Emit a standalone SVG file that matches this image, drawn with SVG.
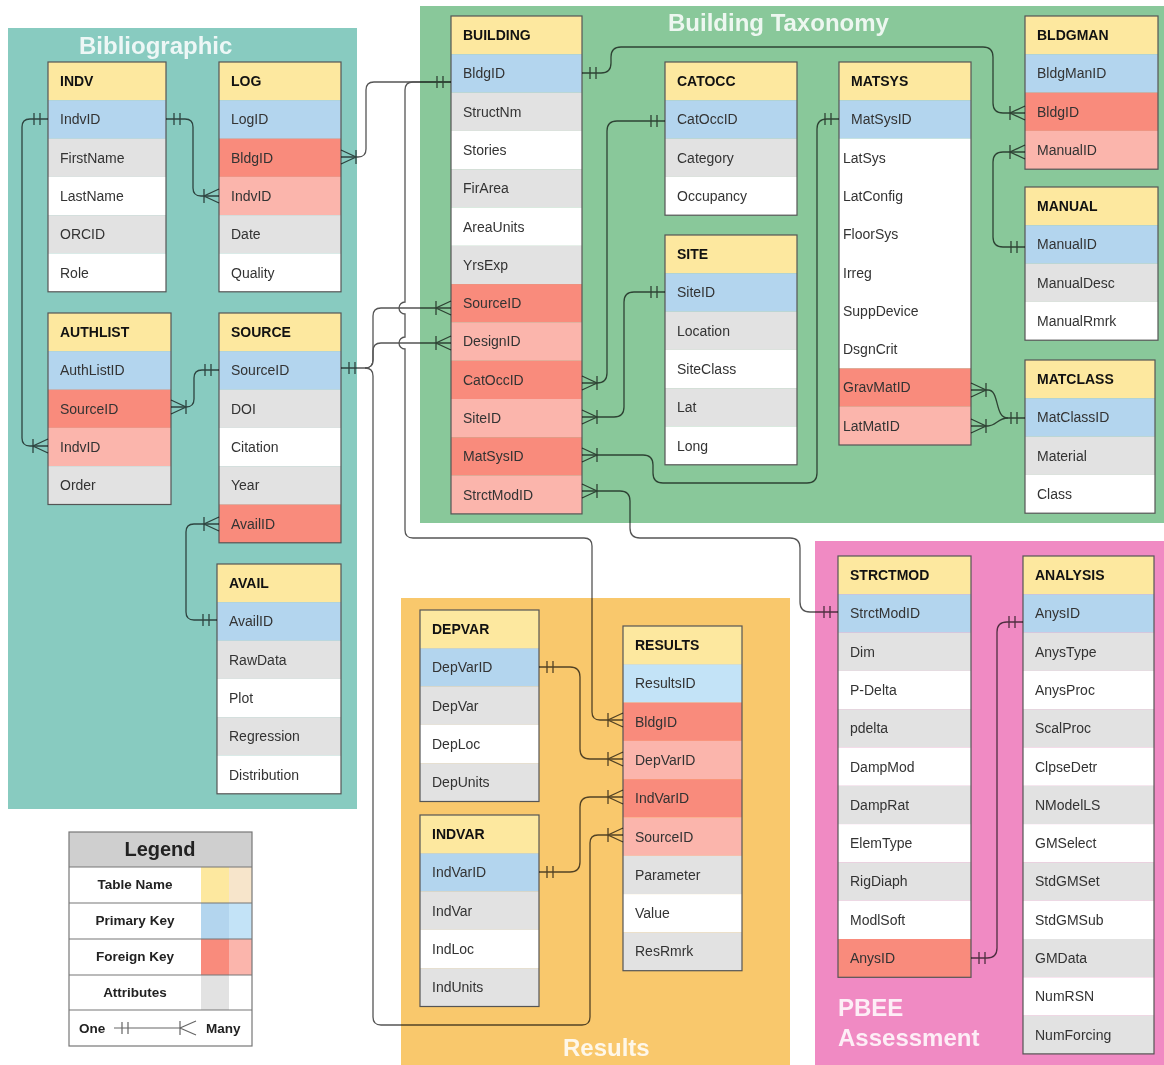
<svg xmlns="http://www.w3.org/2000/svg" width="1164" height="1065" viewBox="0 0 1164 1065">
<style>
.hd{fill:#fde89f}.pk{fill:#b3d5ee}.pl{fill:#c3e3f7}.fk{fill:#f98b7c}.fl{fill:#fbb5ac}.at{fill:#e2e2e2}.wt{fill:#ffffff}
.bd{fill:none;stroke:#555;stroke-width:1.2}
.th{font:bold 14px "Liberation Sans",Arial,sans-serif;fill:#111}
.tr{font:14px "Liberation Sans",Arial,sans-serif;fill:#333}
.gl{font:bold 24px "Liberation Sans",Arial,sans-serif;fill:#ffffff;fill-opacity:0.85}
.cn{fill:none;stroke:#555;stroke-width:1.3}
.lg{font:bold 13.5px "Liberation Sans",Arial,sans-serif;fill:#222}
</style>
<defs>
<marker id="one" markerUnits="userSpaceOnUse" markerWidth="20" markerHeight="20" viewBox="-20 -10 20 20" refX="0" refY="0" orient="auto-start-reverse" overflow="visible">
<path d="M-8,-6V6M-14,-6V6" stroke="#555" stroke-width="1.3" fill="none"/>
</marker>
<marker id="many" markerUnits="userSpaceOnUse" markerWidth="20" markerHeight="20" viewBox="-20 -10 20 20" refX="0" refY="0" orient="auto-start-reverse" overflow="visible">
<path d="M0,-7L-15,0L0,7M-15,-7V7" stroke="#555" stroke-width="1.3" fill="none"/>
</marker>
</defs>
<rect width="1164" height="1065" fill="#ffffff"/>
<g id="regions">
<rect x="8" y="28" width="349" height="781" fill="#88cbc0"/>
<rect x="420" y="6" width="744" height="517" fill="#89c89a"/>
<rect x="401" y="598" width="389" height="467" fill="#f9c86c"/>
<rect x="815" y="541" width="349" height="524" fill="#f08ac3"/>
<text class="gl" x="79" y="54">Bibliographic</text>
<text class="gl" x="668" y="31">Building Taxonomy</text>
<text class="gl" x="563" y="1056">Results</text>
<text class="gl" x="838" y="1016">PBEE</text>
<text class="gl" x="838" y="1046">Assessment</text>
</g>

<g id="t-indv">
<rect class="hd" x="48" y="62" width="118" height="38.3"/>
<rect class="pk" x="48" y="100.3" width="118" height="38.3"/>
<rect class="at" x="48" y="138.6" width="118" height="38.3"/>
<rect class="wt" x="48" y="176.9" width="118" height="38.3"/>
<rect class="at" x="48" y="215.2" width="118" height="38.3"/>
<rect class="wt" x="48" y="253.5" width="118" height="38.3"/>
<rect class="bd" x="48" y="62" width="118" height="229.8"/>
<text class="th" x="60" y="86">INDV</text>
<text class="tr" x="60" y="124.3">IndvID</text>
<text class="tr" x="60" y="162.6">FirstName</text>
<text class="tr" x="60" y="200.9">LastName</text>
<text class="tr" x="60" y="239.2">ORCID</text>
<text class="tr" x="60" y="277.5">Role</text>
</g>

<g id="t-log">
<rect class="hd" x="219" y="62" width="122" height="38.3"/>
<rect class="pk" x="219" y="100.3" width="122" height="38.3"/>
<rect class="fk" x="219" y="138.6" width="122" height="38.3"/>
<rect class="fl" x="219" y="176.9" width="122" height="38.3"/>
<rect class="at" x="219" y="215.2" width="122" height="38.3"/>
<rect class="wt" x="219" y="253.5" width="122" height="38.3"/>
<rect class="bd" x="219" y="62" width="122" height="229.8"/>
<text class="th" x="231" y="86">LOG</text>
<text class="tr" x="231" y="124.3">LogID</text>
<text class="tr" x="231" y="162.6">BldgID</text>
<text class="tr" x="231" y="200.9">IndvID</text>
<text class="tr" x="231" y="239.2">Date</text>
<text class="tr" x="231" y="277.5">Quality</text>
</g>

<g id="t-authlist">
<rect class="hd" x="48" y="313" width="123" height="38.3"/>
<rect class="pk" x="48" y="351.3" width="123" height="38.3"/>
<rect class="fk" x="48" y="389.6" width="123" height="38.3"/>
<rect class="fl" x="48" y="427.9" width="123" height="38.3"/>
<rect class="at" x="48" y="466.2" width="123" height="38.3"/>
<rect class="bd" x="48" y="313" width="123" height="191.5"/>
<text class="th" x="60" y="337">AUTHLIST</text>
<text class="tr" x="60" y="375.3">AuthListID</text>
<text class="tr" x="60" y="413.6">SourceID</text>
<text class="tr" x="60" y="451.9">IndvID</text>
<text class="tr" x="60" y="490.2">Order</text>
</g>

<g id="t-source">
<rect class="hd" x="219" y="313" width="122" height="38.3"/>
<rect class="pk" x="219" y="351.3" width="122" height="38.3"/>
<rect class="at" x="219" y="389.6" width="122" height="38.3"/>
<rect class="wt" x="219" y="427.9" width="122" height="38.3"/>
<rect class="at" x="219" y="466.2" width="122" height="38.3"/>
<rect class="fk" x="219" y="504.5" width="122" height="38.3"/>
<rect class="bd" x="219" y="313" width="122" height="229.8"/>
<text class="th" x="231" y="337">SOURCE</text>
<text class="tr" x="231" y="375.3">SourceID</text>
<text class="tr" x="231" y="413.6">DOI</text>
<text class="tr" x="231" y="451.9">Citation</text>
<text class="tr" x="231" y="490.2">Year</text>
<text class="tr" x="231" y="528.5">AvailID</text>
</g>

<g id="t-avail">
<rect class="hd" x="217" y="564" width="124" height="38.3"/>
<rect class="pk" x="217" y="602.3" width="124" height="38.3"/>
<rect class="at" x="217" y="640.6" width="124" height="38.3"/>
<rect class="wt" x="217" y="678.9" width="124" height="38.3"/>
<rect class="at" x="217" y="717.2" width="124" height="38.3"/>
<rect class="wt" x="217" y="755.5" width="124" height="38.3"/>
<rect class="bd" x="217" y="564" width="124" height="229.8"/>
<text class="th" x="229" y="588">AVAIL</text>
<text class="tr" x="229" y="626.3">AvailID</text>
<text class="tr" x="229" y="664.6">RawData</text>
<text class="tr" x="229" y="702.9">Plot</text>
<text class="tr" x="229" y="741.2">Regression</text>
<text class="tr" x="229" y="779.5">Distribution</text>
</g>

<g id="t-building">
<rect class="hd" x="451" y="16" width="131" height="38.3"/>
<rect class="pk" x="451" y="54.3" width="131" height="38.3"/>
<rect class="at" x="451" y="92.6" width="131" height="38.3"/>
<rect class="wt" x="451" y="130.9" width="131" height="38.3"/>
<rect class="at" x="451" y="169.2" width="131" height="38.3"/>
<rect class="wt" x="451" y="207.5" width="131" height="38.3"/>
<rect class="at" x="451" y="245.8" width="131" height="38.3"/>
<rect class="fk" x="451" y="284.1" width="131" height="38.3"/>
<rect class="fl" x="451" y="322.4" width="131" height="38.3"/>
<rect class="fk" x="451" y="360.7" width="131" height="38.3"/>
<rect class="fl" x="451" y="399" width="131" height="38.3"/>
<rect class="fk" x="451" y="437.3" width="131" height="38.3"/>
<rect class="fl" x="451" y="475.6" width="131" height="38.3"/>
<rect class="bd" x="451" y="16" width="131" height="497.9"/>
<text class="th" x="463" y="40">BUILDING</text>
<text class="tr" x="463" y="78.3">BldgID</text>
<text class="tr" x="463" y="116.6">StructNm</text>
<text class="tr" x="463" y="154.9">Stories</text>
<text class="tr" x="463" y="193.2">FirArea</text>
<text class="tr" x="463" y="231.5">AreaUnits</text>
<text class="tr" x="463" y="269.8">YrsExp</text>
<text class="tr" x="463" y="308.1">SourceID</text>
<text class="tr" x="463" y="346.4">DesignID</text>
<text class="tr" x="463" y="384.7">CatOccID</text>
<text class="tr" x="463" y="423">SiteID</text>
<text class="tr" x="463" y="461.3">MatSysID</text>
<text class="tr" x="463" y="499.6">StrctModID</text>
</g>

<g id="t-catocc">
<rect class="hd" x="665" y="62" width="132" height="38.3"/>
<rect class="pk" x="665" y="100.3" width="132" height="38.3"/>
<rect class="at" x="665" y="138.6" width="132" height="38.3"/>
<rect class="wt" x="665" y="176.9" width="132" height="38.3"/>
<rect class="bd" x="665" y="62" width="132" height="153.2"/>
<text class="th" x="677" y="86">CATOCC</text>
<text class="tr" x="677" y="124.3">CatOccID</text>
<text class="tr" x="677" y="162.6">Category</text>
<text class="tr" x="677" y="200.9">Occupancy</text>
</g>

<g id="t-site">
<rect class="hd" x="665" y="235" width="132" height="38.3"/>
<rect class="pk" x="665" y="273.3" width="132" height="38.3"/>
<rect class="at" x="665" y="311.6" width="132" height="38.3"/>
<rect class="wt" x="665" y="349.9" width="132" height="38.3"/>
<rect class="at" x="665" y="388.2" width="132" height="38.3"/>
<rect class="wt" x="665" y="426.5" width="132" height="38.3"/>
<rect class="bd" x="665" y="235" width="132" height="229.8"/>
<text class="th" x="677" y="259">SITE</text>
<text class="tr" x="677" y="297.3">SiteID</text>
<text class="tr" x="677" y="335.6">Location</text>
<text class="tr" x="677" y="373.9">SiteClass</text>
<text class="tr" x="677" y="412.2">Lat</text>
<text class="tr" x="677" y="450.5">Long</text>
</g>

<g id="t-matsys">
<rect class="hd" x="839" y="62" width="132" height="38.3"/>
<rect class="pk" x="839" y="100.3" width="132" height="38.3"/>
<rect class="wt" x="839" y="138.6" width="132" height="229.8"/>
<rect class="fk" x="839" y="368.4" width="132" height="38.3"/>
<rect class="fl" x="839" y="406.7" width="132" height="38.3"/>
<rect class="bd" x="839" y="62" width="132" height="383"/>
<text class="th" x="851" y="86">MATSYS</text>
<text class="tr" x="851" y="124.3">MatSysID</text>
<text class="tr" x="843" y="162.6">LatSys</text>
<text class="tr" x="843" y="200.9">LatConfig</text>
<text class="tr" x="843" y="239.2">FloorSys</text>
<text class="tr" x="843" y="277.5">Irreg</text>
<text class="tr" x="843" y="315.8">SuppDevice</text>
<text class="tr" x="843" y="354.1">DsgnCrit</text>
<text class="tr" x="843" y="392.4">GravMatID</text>
<text class="tr" x="843" y="430.7">LatMatID</text>
</g>

<g id="t-bldgman">
<rect class="hd" x="1025" y="16" width="133" height="38.3"/>
<rect class="pk" x="1025" y="54.3" width="133" height="38.3"/>
<rect class="fk" x="1025" y="92.6" width="133" height="38.3"/>
<rect class="fl" x="1025" y="130.9" width="133" height="38.3"/>
<rect class="bd" x="1025" y="16" width="133" height="153.2"/>
<text class="th" x="1037" y="40">BLDGMAN</text>
<text class="tr" x="1037" y="78.3">BldgManID</text>
<text class="tr" x="1037" y="116.6">BldgID</text>
<text class="tr" x="1037" y="154.9">ManualID</text>
</g>

<g id="t-manual">
<rect class="hd" x="1025" y="187" width="133" height="38.3"/>
<rect class="pk" x="1025" y="225.3" width="133" height="38.3"/>
<rect class="at" x="1025" y="263.6" width="133" height="38.3"/>
<rect class="wt" x="1025" y="301.9" width="133" height="38.3"/>
<rect class="bd" x="1025" y="187" width="133" height="153.2"/>
<text class="th" x="1037" y="211">MANUAL</text>
<text class="tr" x="1037" y="249.3">ManualID</text>
<text class="tr" x="1037" y="287.6">ManualDesc</text>
<text class="tr" x="1037" y="325.9">ManualRmrk</text>
</g>

<g id="t-matclass">
<rect class="hd" x="1025" y="360" width="130" height="38.3"/>
<rect class="pk" x="1025" y="398.3" width="130" height="38.3"/>
<rect class="at" x="1025" y="436.6" width="130" height="38.3"/>
<rect class="wt" x="1025" y="474.9" width="130" height="38.3"/>
<rect class="bd" x="1025" y="360" width="130" height="153.2"/>
<text class="th" x="1037" y="384">MATCLASS</text>
<text class="tr" x="1037" y="422.3">MatClassID</text>
<text class="tr" x="1037" y="460.6">Material</text>
<text class="tr" x="1037" y="498.9">Class</text>
</g>

<g id="t-depvar">
<rect class="hd" x="420" y="610" width="119" height="38.3"/>
<rect class="pk" x="420" y="648.3" width="119" height="38.3"/>
<rect class="at" x="420" y="686.6" width="119" height="38.3"/>
<rect class="wt" x="420" y="724.9" width="119" height="38.3"/>
<rect class="at" x="420" y="763.2" width="119" height="38.3"/>
<rect class="bd" x="420" y="610" width="119" height="191.5"/>
<text class="th" x="432" y="634">DEPVAR</text>
<text class="tr" x="432" y="672.3">DepVarID</text>
<text class="tr" x="432" y="710.6">DepVar</text>
<text class="tr" x="432" y="748.9">DepLoc</text>
<text class="tr" x="432" y="787.2">DepUnits</text>
</g>

<g id="t-indvar">
<rect class="hd" x="420" y="815" width="119" height="38.3"/>
<rect class="pk" x="420" y="853.3" width="119" height="38.3"/>
<rect class="at" x="420" y="891.6" width="119" height="38.3"/>
<rect class="wt" x="420" y="929.9" width="119" height="38.3"/>
<rect class="at" x="420" y="968.2" width="119" height="38.3"/>
<rect class="bd" x="420" y="815" width="119" height="191.5"/>
<text class="th" x="432" y="839">INDVAR</text>
<text class="tr" x="432" y="877.3">IndVarID</text>
<text class="tr" x="432" y="915.6">IndVar</text>
<text class="tr" x="432" y="953.9">IndLoc</text>
<text class="tr" x="432" y="992.2">IndUnits</text>
</g>

<g id="t-results">
<rect class="hd" x="623" y="626" width="119" height="38.3"/>
<rect class="pl" x="623" y="664.3" width="119" height="38.3"/>
<rect class="fk" x="623" y="702.6" width="119" height="38.3"/>
<rect class="fl" x="623" y="740.9" width="119" height="38.3"/>
<rect class="fk" x="623" y="779.2" width="119" height="38.3"/>
<rect class="fl" x="623" y="817.5" width="119" height="38.3"/>
<rect class="at" x="623" y="855.8" width="119" height="38.3"/>
<rect class="wt" x="623" y="894.1" width="119" height="38.3"/>
<rect class="at" x="623" y="932.4" width="119" height="38.3"/>
<rect class="bd" x="623" y="626" width="119" height="344.7"/>
<text class="th" x="635" y="650">RESULTS</text>
<text class="tr" x="635" y="688.3">ResultsID</text>
<text class="tr" x="635" y="726.6">BldgID</text>
<text class="tr" x="635" y="764.9">DepVarID</text>
<text class="tr" x="635" y="803.2">IndVarID</text>
<text class="tr" x="635" y="841.5">SourceID</text>
<text class="tr" x="635" y="879.8">Parameter</text>
<text class="tr" x="635" y="918.1">Value</text>
<text class="tr" x="635" y="956.4">ResRmrk</text>
</g>

<g id="t-strctmod">
<rect class="hd" x="838" y="556" width="133" height="38.3"/>
<rect class="pk" x="838" y="594.3" width="133" height="38.3"/>
<rect class="at" x="838" y="632.6" width="133" height="38.3"/>
<rect class="wt" x="838" y="670.9" width="133" height="38.3"/>
<rect class="at" x="838" y="709.2" width="133" height="38.3"/>
<rect class="wt" x="838" y="747.5" width="133" height="38.3"/>
<rect class="at" x="838" y="785.8" width="133" height="38.3"/>
<rect class="wt" x="838" y="824.1" width="133" height="38.3"/>
<rect class="at" x="838" y="862.4" width="133" height="38.3"/>
<rect class="wt" x="838" y="900.7" width="133" height="38.3"/>
<rect class="fk" x="838" y="939" width="133" height="38.3"/>
<rect class="bd" x="838" y="556" width="133" height="421.3"/>
<text class="th" x="850" y="580">STRCTMOD</text>
<text class="tr" x="850" y="618.3">StrctModID</text>
<text class="tr" x="850" y="656.6">Dim</text>
<text class="tr" x="850" y="694.9">P-Delta</text>
<text class="tr" x="850" y="733.2">pdelta</text>
<text class="tr" x="850" y="771.5">DampMod</text>
<text class="tr" x="850" y="809.8">DampRat</text>
<text class="tr" x="850" y="848.1">ElemType</text>
<text class="tr" x="850" y="886.4">RigDiaph</text>
<text class="tr" x="850" y="924.7">ModlSoft</text>
<text class="tr" x="850" y="963">AnysID</text>
</g>

<g id="t-analysis">
<rect class="hd" x="1023" y="556" width="131" height="38.3"/>
<rect class="pk" x="1023" y="594.3" width="131" height="38.3"/>
<rect class="at" x="1023" y="632.6" width="131" height="38.3"/>
<rect class="wt" x="1023" y="670.9" width="131" height="38.3"/>
<rect class="at" x="1023" y="709.2" width="131" height="38.3"/>
<rect class="wt" x="1023" y="747.5" width="131" height="38.3"/>
<rect class="at" x="1023" y="785.8" width="131" height="38.3"/>
<rect class="wt" x="1023" y="824.1" width="131" height="38.3"/>
<rect class="at" x="1023" y="862.4" width="131" height="38.3"/>
<rect class="wt" x="1023" y="900.7" width="131" height="38.3"/>
<rect class="at" x="1023" y="939" width="131" height="38.3"/>
<rect class="wt" x="1023" y="977.3" width="131" height="38.3"/>
<rect class="at" x="1023" y="1015.6" width="131" height="38.3"/>
<rect class="bd" x="1023" y="556" width="131" height="497.9"/>
<text class="th" x="1035" y="580">ANALYSIS</text>
<text class="tr" x="1035" y="618.3">AnysID</text>
<text class="tr" x="1035" y="656.6">AnysType</text>
<text class="tr" x="1035" y="694.9">AnysProc</text>
<text class="tr" x="1035" y="733.2">ScalProc</text>
<text class="tr" x="1035" y="771.5">ClpseDetr</text>
<text class="tr" x="1035" y="809.8">NModelLS</text>
<text class="tr" x="1035" y="848.1">GMSelect</text>
<text class="tr" x="1035" y="886.4">StdGMSet</text>
<text class="tr" x="1035" y="924.7">StdGMSub</text>
<text class="tr" x="1035" y="963">GMData</text>
<text class="tr" x="1035" y="1001.3">NumRSN</text>
<text class="tr" x="1035" y="1039.6">NumForcing</text>
</g>

<g id="legend">
<rect x="69" y="832" width="183" height="214" fill="#ffffff"/>
<rect x="69" y="832" width="183" height="35" fill="#cfcfcf"/>
<rect x="201" y="867" width="28" height="36" fill="#fde89f"/>
<rect x="229" y="867" width="23" height="36" fill="#f7e5cb"/>
<rect x="201" y="903" width="28" height="36" fill="#b3d5ee"/>
<rect x="229" y="903" width="23" height="36" fill="#c3e3f7"/>
<rect x="201" y="939" width="28" height="36" fill="#f98b7c"/>
<rect x="229" y="939" width="23" height="36" fill="#fbb5ac"/>
<rect x="201" y="975" width="28" height="35" fill="#e2e2e2"/>
<path d="M69,867H252M69,903H252M69,939H252M69,975H252M69,1010H252" stroke="#777" stroke-width="1.2" fill="none"/>
<rect x="69" y="832" width="183" height="214" fill="none" stroke="#777" stroke-width="1.2"/>
<text x="160" y="856" text-anchor="middle" style="font:bold 20px 'Liberation Sans',Arial,sans-serif;fill:#222">Legend</text>
<text class="lg" x="135" y="889" text-anchor="middle">Table Name</text>
<text class="lg" x="135" y="925" text-anchor="middle">Primary Key</text>
<text class="lg" x="135" y="961" text-anchor="middle">Foreign Key</text>
<text class="lg" x="135" y="997" text-anchor="middle">Attributes</text>
<text class="lg" x="79" y="1033">One</text>
<text class="lg" x="206" y="1033">Many</text>
<path d="M114,1028H180M122,1022V1034M128,1022V1034M180,1021V1035M180,1028L196,1021M180,1028L196,1035" stroke="#666" stroke-width="1.2" fill="none"/>
</g>

<g id="connectors" style="mix-blend-mode:multiply">
<path class="cn" marker-start="url(#one)" marker-end="url(#many)" d="M48,119 L30,119 Q22,119 22,127 L22,438 Q22,446 30,446 L48,446"/>
<path class="cn" marker-start="url(#one)" marker-end="url(#many)" d="M166,119 L185,119 Q193,119 193,127 L193,188 Q193,196 201,196 L219,196"/>
<path class="cn" marker-start="url(#many)" marker-end="url(#one)" d="M341,157 L358,157 Q366,157 366,149 L366,90 Q366,82 374,82 L451,82"/>
<path class="cn" marker-end="url(#many)" d="M451,82 L413,82 Q405,82 405,90 L405,302 A6,6 0 0 0 405,314 L405,337 A6,6 0 0 0 405,349 L405,530 Q405,538 413,538 L584,538 Q592,538 592,546 L592,712 Q592,720 600,720 L623,720"/>
<path class="cn" marker-start="url(#one)" marker-end="url(#many)" d="M341,368 L365,368 Q373,368 373,360 L373,316 Q373,308 381,308 L451,308"/>
<path class="cn" marker-end="url(#many)" d="M365,368 Q373,368 373,360 L373,351 Q373,343 381,343 L451,343"/>
<path class="cn" marker-end="url(#many)" d="M365,368 Q373,368 373,376 L373,1017 Q373,1025 381,1025 L582,1025 Q590,1025 590,1017 L590,843 Q590,835 598,835 L623,835"/>
<path class="cn" marker-start="url(#many)" marker-end="url(#one)" d="M171,407 L186,407 Q194,407 194,399 L194,378 Q194,370 202,370 L219,370"/>
<path class="cn" marker-start="url(#many)" marker-end="url(#one)" d="M219,524 L194,524 Q186,524 186,532 L186,612 Q186,620 194,620 L217,620"/>
<path class="cn" marker-start="url(#one)" marker-end="url(#many)" d="M582,73 L601,73 Q611,73 611,63 L611,57 Q611,47 621,47 L983,47 Q993,47 993,57 L993,103 Q993,113 1003,113 L1025,113"/>
<path class="cn" marker-start="url(#one)" marker-end="url(#many)" d="M1025,247 L1003,247 Q993,247 993,237 L993,162 Q993,152 1003,152 L1025,152"/>
<path class="cn" marker-start="url(#one)" marker-end="url(#many)" d="M665,121 L617,121 Q607,121 607,131 L607,373 Q607,383 597,383 L582,383"/>
<path class="cn" marker-start="url(#one)" marker-end="url(#many)" d="M665,292 L634,292 Q624,292 624,302 L624,407 Q624,417 614,417 L582,417"/>
<path class="cn" marker-start="url(#one)" marker-end="url(#many)" d="M839,119 L827,119 Q817,119 817,129 L817,473 Q817,483 807,483 L663,483 Q653,483 653,473 L653,465 Q653,455 643,455 L582,455"/>
<path class="cn" marker-start="url(#many)" marker-end="url(#one)" d="M582,491 L620,491 Q630,491 630,501 L630,528 Q630,538 640,538 L790,538 Q800,538 800,548 L800,602 Q800,612 810,612 L838,612"/>
<path class="cn" marker-start="url(#one)" marker-end="url(#one)" d="M971,958 L987,958 Q997,958 997,948 L997,632 Q997,622 1007,622 L1023,622"/>
<path class="cn" marker-start="url(#many)" marker-end="url(#one)" d="M971,390 L988,390 C1000,390 994,418 1008,418 L1025,418"/>
<path class="cn" marker-start="url(#many)" d="M971,426 L988,426 C996,426 998,418 1008,418"/>
<path class="cn" marker-start="url(#one)" marker-end="url(#many)" d="M539,667 L570,667 Q580,667 580,677 L580,749 Q580,759 590,759 L623,759"/>
<path class="cn" marker-start="url(#one)" marker-end="url(#many)" d="M539,872 L570,872 Q580,872 580,862 L580,807 Q580,797 590,797 L623,797"/>
</g>
</svg>
